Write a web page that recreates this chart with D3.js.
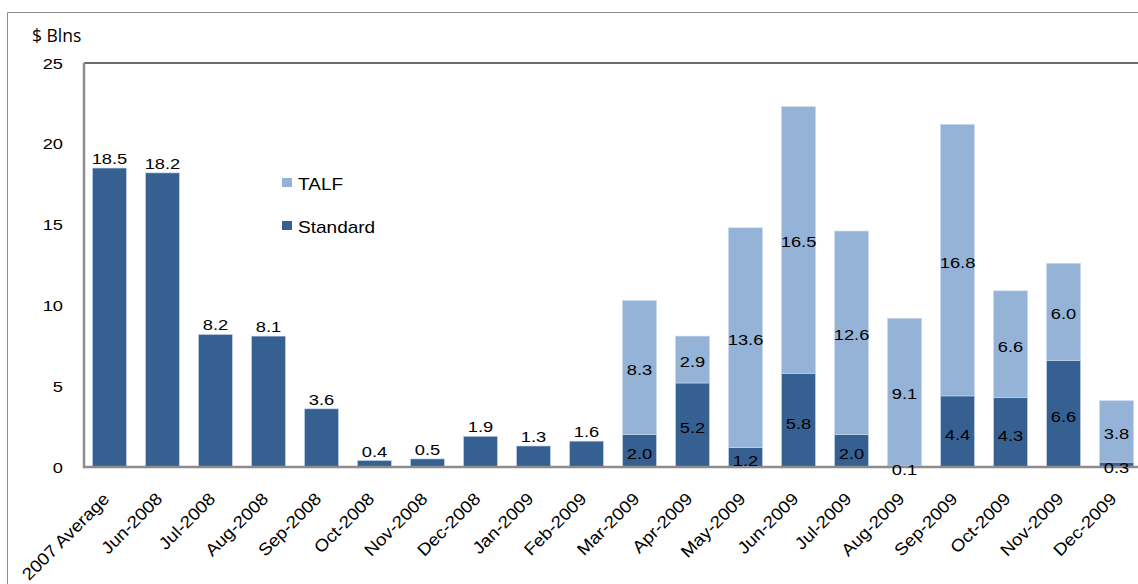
<!DOCTYPE html>
<html>
<head>
<meta charset="utf-8">
<script src="https://cdn.jsdelivr.net/npm/d3@7"></script>
<style>
  html, body { margin: 0; padding: 0; background: #fff; }
  svg { display: block; }
  text { font-family: "Liberation Sans", Arial, sans-serif; fill: #000; }
</style>
</head>
<body>
<svg id="chart" width="1138" height="584"></svg>
<script>
const categories = ["2007 Average","Jun-2008","Jul-2008","Aug-2008","Sep-2008","Oct-2008","Nov-2008","Dec-2008","Jan-2009","Feb-2009","Mar-2009","Apr-2009","May-2009","Jun-2009","Jul-2009","Aug-2009","Sep-2009","Oct-2009","Nov-2009","Dec-2009"];
const standard = [18.5,18.2,8.2,8.1,3.6,0.4,0.5,1.9,1.3,1.6,2.0,5.2,1.2,5.8,2.0,0.1,4.4,4.3,6.6,0.3];
const talf     = [0,0,0,0,0,0,0,0,0,0,8.3,2.9,13.6,16.5,12.6,9.1,16.8,6.6,6.0,3.8];
const yTicks = [0,5,10,15,20,25];
const seriesNames = ["Standard","TALF"];
const colors = {Standard:"#376092", TALF:"#95B3D7"};
const unitLabel = "$ Blns";

const svg = d3.select("#chart");
const plotL = 84, plotR = 1142, plotT = 63, plotB = 467;
const SX = 1.18, FS = 15.5;

const x = d3.scaleBand().domain(categories).range([plotL, plotR]).paddingInner(0.36).paddingOuter(0.16);
const y = d3.scaleLinear().domain([0, 25]).range([plotB, plotT]);

function stxt(g, tx, ty, str, anchor, size) {
  return g.append("text")
    .attr("transform", `translate(${tx},${ty}) scale(${SX},1)`)
    .attr("text-anchor", anchor || "middle")
    .style("font-size", (size || FS) + "px")
    .text(str);
}

// outer frame
svg.append("path").attr("d", "M7.5,584 V12.5 H1138").attr("fill", "none").attr("stroke", "#8c8c8c").attr("stroke-width", 1);

// top border of plot
svg.append("line").attr("x1", plotL).attr("x2", 1138).attr("y1", plotT).attr("y2", plotT)
  .attr("stroke", "#3a3a3a").attr("stroke-width", 1.5);

// data
const data = categories.map((c, i) => ({cat: c, Standard: standard[i], TALF: talf[i]}));
const stack = d3.stack().keys(seriesNames)(data);

const gBars = svg.append("g");
stack.forEach(layer => {
  gBars.selectAll(null).data(layer.filter(d => d[1] - d[0] > 0)).join("rect")
    .attr("x", d => x(d.data.cat))
    .attr("width", x.bandwidth())
    .attr("y", d => y(d[1]))
    .attr("height", d => y(d[0]) - y(d[1]))
    .attr("fill", colors[layer.key])
    .attr("stroke", "#c6d6ea").attr("stroke-width", 0.6);
});

// axes
svg.append("line").attr("x1", plotL).attr("x2", plotL).attr("y1", plotT).attr("y2", plotB + 1)
  .attr("stroke", "#8c8c8c").attr("stroke-width", 2.5);
svg.append("line").attr("x1", plotL - 1).attr("x2", 1138).attr("y1", plotB).attr("y2", plotB)
  .attr("stroke", "#8c8c8c").attr("stroke-width", 2.5);

// y tick labels
const gY = svg.append("g");
yTicks.forEach(t => stxt(gY, 63, y(t) + 5.5, String(t), "end"));

// unit label
svg.append("text").attr("x", 32).attr("y", 42)
  .style("font-family", "'Open Sans', 'Liberation Sans', sans-serif").style("font-size", "17.5px")
  .text(unitLabel);

// x labels
const gX = svg.append("g");
categories.forEach(c => {
  gX.append("text")
    .attr("transform", `translate(${x(c) + x.bandwidth() / 2 + 1},${500}) rotate(-45) scale(1.1,1)`)
    .attr("text-anchor", "end")
    .style("font-size", "17px")
    .text(c);
});

// value labels
const gL = svg.append("g");
data.forEach((d, i) => {
  const cx = x(d.cat) + x.bandwidth() / 2;
  if (d.TALF === 0) {
    stxt(gL, cx, y(d.Standard) - 4, d.Standard.toFixed(1));
  } else {
    const sMid = (y(0) + y(d.Standard)) / 2;
    stxt(gL, cx, sMid + 8.5, d.Standard.toFixed(1));
    const tMid = (y(d.Standard) + y(d.Standard + d.TALF)) / 2;
    stxt(gL, cx, tMid + 7.5, d.TALF.toFixed(1));
  }
});

// legend
const legend = [{k: "TALF", y: 183}, {k: "Standard", y: 226}];
legend.forEach(l => {
  svg.append("rect").attr("x", 282).attr("y", l.y - 5).attr("width", 10).attr("height", 9).attr("fill", colors[l.k]);
  svg.append("text").attr("transform", `translate(298,${l.y + 7}) scale(1.12,1)`)
    .style("font-size", "17px").text(l.k);
});
</script>
</body>
</html>
